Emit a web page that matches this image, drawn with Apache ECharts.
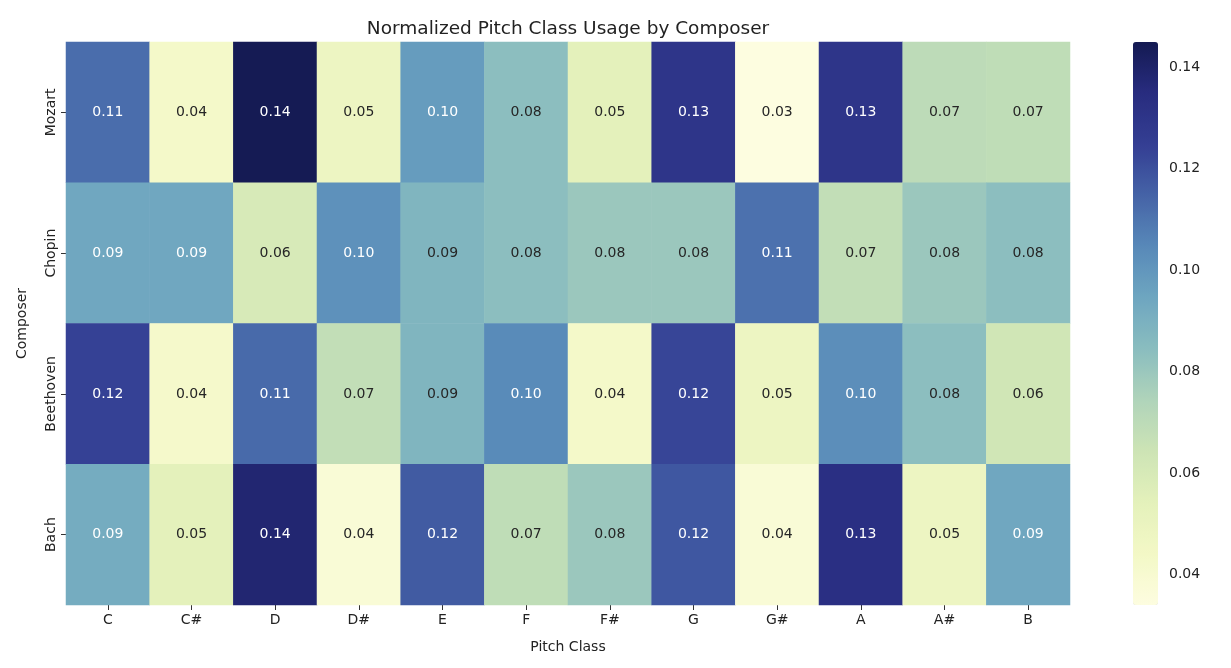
<!DOCTYPE html>
<html>
<head>
<meta charset="utf-8">
<script src="https://cdn.jsdelivr.net/npm/echarts@6/dist/echarts.min.js"></script>
<style>html,body{margin:0;padding:0;background:#fff;}#c{width:1231px;height:668px;}</style>
</head>
<body>
<div id="c"></div>
<script>
var pitchClasses = ['C','C#','D','D#','E','F','F#','G','G#','A','A#','B'];
var composers = ['Mozart','Chopin','Beethoven','Bach'];
var mozart    = [0.112, 0.043, 0.1445, 0.048, 0.098, 0.084, 0.054, 0.130, 0.034, 0.130, 0.070, 0.069];
var chopin    = [0.094, 0.094, 0.060, 0.102, 0.088, 0.084, 0.080, 0.080, 0.111, 0.068, 0.080, 0.084];
var beethoven = [0.124, 0.042, 0.113, 0.068, 0.088, 0.104, 0.043, 0.123, 0.048, 0.103, 0.084, 0.063];
var bach      = [0.092, 0.054, 0.138, 0.038, 0.117, 0.069, 0.080, 0.118, 0.038, 0.133, 0.048, 0.094];
var colorbarTicks = [0.04, 0.06, 0.08, 0.10, 0.12, 0.14];

var rows = [mozart, chopin, beethoven, bach];
var vMin = 0.034, vMax = 0.145;
var palette = ['#fdfde0','#f3f8c6','#e4f1bb','#cde4b5','#b0d4ba','#8abdbf','#6ea6c0','#5889b9','#4563a7','#343e93','#282c7f','#141a52'];

var data = [];
rows.forEach(function (row, yi) {
  row.forEach(function (v, xi) {
    data.push({
      value: [xi, yi, v],
      label: { color: v >= 0.09 ? '#ffffff' : '#262626' }
    });
  });
});

var font = 'DejaVu Sans';
var chart = echarts.init(document.getElementById('c'));
chart.setOption({
  backgroundColor: '#ffffff',
  animation: false,
  title: {
    text: 'Normalized Pitch Class Usage by Composer',
    left: 563, top: 15, textAlign: 'center',
    textStyle: { fontFamily: font, fontSize: 18.5, fontWeight: 'normal', color: '#222' }
  },
  grid: [
    { left: 66, top: 42, width: 1004, height: 563 },
    { left: 1133, top: 42, width: 25, height: 563 }
  ],
  xAxis: [
    {
      type: 'category', data: pitchClasses, gridIndex: 0,
      axisLine: { show: false },
      axisTick: { show: true, alignWithLabel: true, length: 5, lineStyle: { color: '#333' } },
      axisLabel: { fontFamily: font, fontSize: 14, color: '#222', margin: 8 },
      splitArea: { show: false },
      name: 'Pitch Class', nameLocation: 'middle', nameGap: 35,
      nameTextStyle: { fontFamily: font, fontSize: 14, color: '#222' }
    },
    { type: 'value', gridIndex: 1, show: false, min: 0, max: 1 }
  ],
  yAxis: [
    {
      type: 'category', data: composers, gridIndex: 0, inverse: true,
      axisLine: { show: false },
      axisTick: { show: true, alignWithLabel: true, length: 5, lineStyle: { color: '#333' } },
      axisLabel: { fontFamily: font, fontSize: 14, color: '#222', rotate: 90, margin: 8 },
      name: 'Composer', nameLocation: 'middle', nameGap: 37, nameRotate: 90,
      nameTextStyle: { fontFamily: font, fontSize: 14, color: '#222' }
    },
    {
      type: 'value', gridIndex: 1, position: 'right', min: vMin, max: vMax,
      axisLine: { show: false },
      splitLine: { show: false },
      axisTick: { show: true, length: 4, lineStyle: { color: '#333' }, customValues: colorbarTicks },
      axisLabel: {
        fontFamily: font, fontSize: 14, color: '#222', margin: 11,
        customValues: colorbarTicks,
        formatter: function (v) { return v.toFixed(2); }
      }
    }
  ],
  visualMap: {
    type: 'continuous',
    min: vMin, max: vMax,
    seriesIndex: 0,
    calculable: false,
    orient: 'vertical',
    left: 1133, top: 42,
    itemWidth: 25, itemHeight: 563,
    padding: 0,
    text: null,
    showLabel: false,
    inRange: { color: palette }
  },
  series: [
    {
      type: 'heatmap',
      xAxisIndex: 0, yAxisIndex: 0,
      data: data,
      label: {
        show: true, fontFamily: font, fontSize: 14,
        formatter: function (p) { return p.value[2].toFixed(2); }
      },
      itemStyle: { borderWidth: 0 },
      emphasis: { disabled: true }
    },
    {
      type: 'scatter', xAxisIndex: 1, yAxisIndex: 1, data: [], silent: true
    }
  ]
});
</script>
</body>
</html>
